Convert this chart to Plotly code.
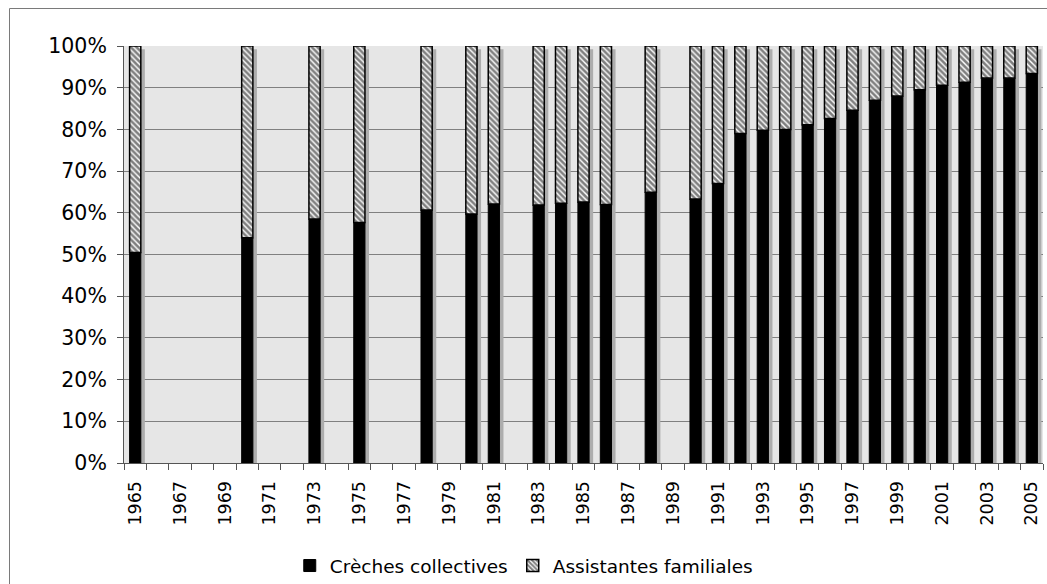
import plotly.graph_objects as go

# ---- data ----
years = [1965, 1970, 1973, 1975, 1978, 1980, 1981, 1983, 1984, 1985, 1986, 1988,
         1990, 1991, 1992, 1993, 1994, 1995, 1996, 1997, 1998, 1999, 2000, 2001,
         2002, 2003, 2004, 2005]
creches = [50.5, 54.0, 58.5, 57.7, 60.7, 59.7, 62.1, 61.9, 62.3, 62.6, 62.0, 64.9,
           63.3, 67.0, 79.0, 79.8, 80.0, 81.1, 82.6, 84.6, 87.0, 88.0, 89.5, 90.6,
           91.3, 92.3, 92.3, 93.4]
assistantes = [49.5, 46.0, 41.5, 42.3, 39.3, 40.3, 37.9, 38.1, 37.7, 37.4, 38.0, 35.1,
               36.7, 33.0, 21.0, 20.2, 20.0, 18.9, 17.4, 15.4, 13.0, 12.0, 10.5, 9.4,
               8.7, 7.7, 7.7, 6.6]
tick_years = list(range(1965, 2006, 2))
tick_labels = [str(y) for y in tick_years]
y_ticks = list(range(0, 101, 10))
series_names = ["Crèches collectives", "Assistantes familiales"]

W, H = 1047, 584
L, R, T, B = 124, 4, 46, 121
pw, ph = W - L - R, H - T - B

fig = go.Figure()

# shadow behind each bar
fig.add_trace(go.Bar(
    x=years, y=[c + a for c, a in zip(creches, assistantes)], base=-0.8,
    width=0.5, offset=-0.07,
    marker=dict(color="#adadad", line=dict(width=0)),
    showlegend=False, hoverinfo="skip"))

fig.add_trace(go.Bar(
    x=years, y=creches, base=0, width=0.5, offset=-0.25,
    name=series_names[0],
    marker=dict(color="black", line=dict(color="black", width=1))))

fig.add_trace(go.Bar(
    x=years, y=assistantes, base=creches, width=0.5, offset=-0.25,
    name=series_names[1],
    marker=dict(color="white", line=dict(color="black", width=1.5),
                pattern=dict(shape="\\", fgcolor="black", bgcolor="white",
                             size=4, solidity=0.65))))

# outer chart border
fig.add_shape(type="rect", xref="paper", yref="paper",
              x0=(9.5 - L) / pw, x1=(W + 20 - L) / pw,
              y0=-(H + 20 - T - ph) / ph, y1=(ph + T - 8.5) / ph,
              line=dict(color="#7a7a7a", width=1), fillcolor="rgba(0,0,0,0)",
              layer="below")

fig.update_layout(
    width=W, height=H,
    margin=dict(l=L, r=R, t=T, b=B, autoexpand=False),
    barmode="overlay",
    plot_bgcolor="#e6e6e6", paper_bgcolor="white",
    font=dict(family="DejaVu Sans", color="black"),
    legend=dict(orientation="h", x=0.435, xanchor="center",
                y=-(566 - T - ph) / ph, yanchor="middle",
                font=dict(size=18.5), itemwidth=30, tracegroupgap=0),
    xaxis=dict(range=[1964.5, 2005.5], tickmode="array", tickvals=tick_years,
               ticktext=tick_labels, tickangle=-90, ticks="", showgrid=False,
               tickfont=dict(size=17.5), ticklabelstandoff=10, automargin=False,
               showline=True, linecolor="#555555", zeroline=False,
               minor=dict(tick0=1964.5, dtick=1, ticks="outside", ticklen=6,
                          tickcolor="#555555", showgrid=False)),
    yaxis=dict(range=[0, 100], tickmode="array", tickvals=y_ticks,
               ticktext=[f"{v}%" for v in y_ticks], ticks="outside",
               ticklen=6, tickcolor="#555555", tickfont=dict(size=20.5),
               ticklabelstandoff=6, automargin=False,
               showline=True, linecolor="#555555", gridcolor="#808080",
               gridwidth=1, zeroline=False),
)

fig.write_html("out.html", config={"displayModeBar": False},
               post_script="document.body.style.margin='0';document.body.style.overflow='hidden';")
